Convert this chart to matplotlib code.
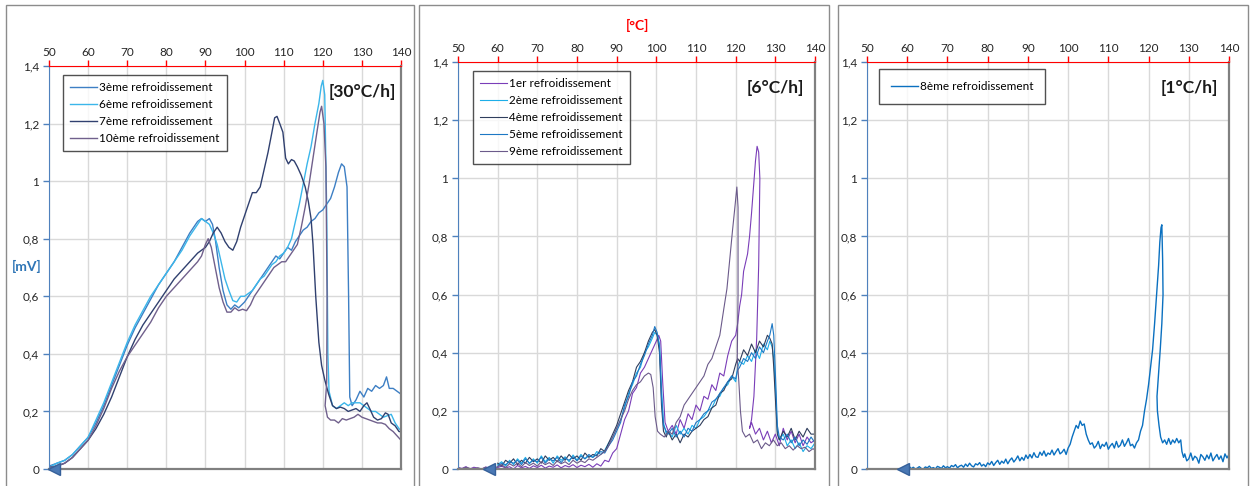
import matplotlib
matplotlib.use("Agg")
import matplotlib.pyplot as plt
from matplotlib.patches import Rectangle

plt.rcParams['font.family'] = ['Lato', 'DejaVu Sans']

# ---- data (temperature [°C], signal [mV]) ----
# panel 1 : 30°C/h
s3_x = [50, 52, 54, 56, 58, 60, 62, 64, 66, 68, 70, 72, 74, 76, 78, 80, 82, 84, 86, 88, 89, 90, 91, 91.8, 92.5,
        93.5, 94.5, 95.5, 96.5, 97.5, 98.5, 100, 101, 102, 103, 104, 105, 106, 107, 108, 109, 110, 111, 112, 113,
        114, 115, 116, 117, 118, 119, 120, 121, 122, 123, 124, 124.8, 125.5, 126.2, 126.6, 126.9, 127.5, 128.5,
        129.5, 130.5, 131.5, 132.5, 133.5, 134.5, 135.5, 136.3, 137, 138, 139, 140]
s3_y = [0.01, 0.02, 0.03, 0.05, 0.08, 0.11, 0.16, 0.22, 0.29, 0.36, 0.43, 0.49, 0.54, 0.59, 0.64, 0.68, 0.72, 0.77,
        0.82, 0.86, 0.87, 0.86, 0.87, 0.85, 0.80, 0.70, 0.62, 0.57, 0.555, 0.57, 0.56, 0.58, 0.60, 0.62, 0.64, 0.66,
        0.68, 0.70, 0.72, 0.74, 0.73, 0.75, 0.77, 0.76, 0.79, 0.81, 0.83, 0.84, 0.86, 0.87, 0.89, 0.90, 0.92, 0.94,
        0.98, 1.03, 1.06, 1.05, 0.98, 0.60, 0.25, 0.22, 0.24, 0.27, 0.25, 0.28, 0.27, 0.29, 0.28, 0.29, 0.32, 0.28,
        0.28, 0.27, 0.26]

s6_x = [50, 52, 54, 56, 58, 60, 62, 64, 66, 68, 70, 72, 74, 76, 78, 80, 82, 84, 86, 88, 89, 90, 91, 92, 93, 94, 95,
        96, 97, 98, 99, 100, 101, 102, 103, 104, 105, 106, 107, 108, 109, 110, 111, 112, 113, 114, 115, 116, 117,
        118, 119, 119.6, 120, 120.5, 121, 121.3, 121.6, 122.5, 123.5, 124.5, 125.5, 126.5, 127.5, 128.5, 129.5,
        130.5, 131.5, 132.5, 133.5, 134.5, 135.5, 136.5, 137.5, 138.5, 139.5, 140]
s6_y = [0.005, 0.02, 0.03, 0.05, 0.08, 0.11, 0.17, 0.23, 0.30, 0.37, 0.44, 0.50, 0.55, 0.60, 0.64, 0.68, 0.72, 0.76,
        0.81, 0.85, 0.87, 0.86, 0.85, 0.82, 0.78, 0.72, 0.66, 0.62, 0.585, 0.58, 0.60, 0.60, 0.61, 0.62, 0.64, 0.66,
        0.67, 0.69, 0.71, 0.72, 0.74, 0.75, 0.77, 0.80, 0.86, 0.92, 0.99, 1.06, 1.12, 1.20, 1.27, 1.33, 1.35, 1.30,
        0.90, 0.40, 0.27, 0.22, 0.21, 0.22, 0.23, 0.22, 0.23, 0.23, 0.23, 0.22, 0.21, 0.20, 0.20, 0.19, 0.18, 0.185,
        0.19, 0.16, 0.14, 0.135]

s7_x = [50, 52, 54, 56, 58, 60, 62, 64, 66, 68, 70, 72, 74, 76, 78, 80, 82, 84, 86, 88, 89, 90, 91, 92, 93, 94, 95,
        96, 97, 98, 99, 100, 101, 102, 103, 104, 105, 106, 107, 107.7, 108.3, 109, 109.8, 110.5, 111.2, 112, 112.7,
        113.5, 114.5, 115.5, 116.3, 117, 117.5, 118.2, 119, 119.7, 120.5, 121.5, 122.5, 123.5, 124.5, 125.5, 126.5,
        127.5, 128.5, 129.5, 130.5, 131.3, 132, 133, 134, 135, 136, 136.7, 137.5, 138.5, 139.5, 140]
s7_y = [0.005, 0.01, 0.02, 0.04, 0.07, 0.10, 0.14, 0.19, 0.25, 0.32, 0.39, 0.45, 0.50, 0.54, 0.58, 0.62, 0.66, 0.69,
        0.72, 0.75, 0.76, 0.77, 0.79, 0.82, 0.84, 0.82, 0.79, 0.77, 0.76, 0.79, 0.84, 0.88, 0.92, 0.96, 0.96, 0.98,
        1.04, 1.10, 1.17, 1.22, 1.225, 1.20, 1.17, 1.08, 1.06, 1.075, 1.07, 1.05, 1.02, 0.98, 0.93, 0.87, 0.78, 0.60,
        0.44, 0.36, 0.31, 0.26, 0.22, 0.21, 0.215, 0.21, 0.20, 0.205, 0.21, 0.20, 0.22, 0.23, 0.21, 0.18, 0.17,
        0.175, 0.195, 0.19, 0.16, 0.15, 0.13, 0.13]

s10_x = [50, 52, 54, 56, 58, 60, 62, 64, 66, 68, 70, 72, 74, 76, 78, 80, 82, 84, 86, 88, 89, 90, 90.7, 91.5, 92.5,
         93.5, 94.5, 95.5, 96.5, 97.5, 98.5, 99.5, 100.5, 101.5, 102.5, 103.5, 104.5, 105.5, 106.5, 107.5, 108.5,
         109.5, 110.5, 111.5, 112.5, 113.5, 114.5, 115.5, 116.5, 117.5, 118.5, 119.3, 119.7, 120.3, 120.8, 121.1,
         121.0, 120.6, 121.2, 122, 123, 124, 125, 126, 127, 128, 129, 130, 131, 132, 133, 134, 135, 136, 137, 138,
         139, 140]
s10_y = [0.005, 0.01, 0.02, 0.04, 0.07, 0.10, 0.15, 0.21, 0.28, 0.34, 0.39, 0.43, 0.47, 0.51, 0.56, 0.60, 0.63, 0.66,
         0.69, 0.72, 0.74, 0.78, 0.80, 0.77, 0.70, 0.63, 0.58, 0.545, 0.545, 0.56, 0.55, 0.555, 0.55, 0.57, 0.60,
         0.62, 0.64, 0.66, 0.68, 0.70, 0.71, 0.72, 0.72, 0.74, 0.76, 0.78, 0.84, 0.91, 0.99, 1.08, 1.17, 1.24, 1.26,
         1.20, 1.05, 0.60, 0.30, 0.22, 0.18, 0.17, 0.17, 0.16, 0.175, 0.17, 0.175, 0.18, 0.19, 0.18, 0.175, 0.17,
         0.165, 0.16, 0.16, 0.155, 0.14, 0.13, 0.115, 0.10]

# panel 2 : 6°C/h
s1_x = [50, 51, 52, 53, 54, 55, 56, 57, 58, 59, 60, 61, 62, 63, 64, 65, 66, 67, 68, 69, 70, 71, 72, 73, 74, 75, 76,
        77, 78, 79, 80, 81, 82, 83, 84, 85, 86, 87, 88, 89, 90, 91, 92, 93, 94, 95, 96, 97, 98, 99, 100, 100.6,
        101.1, 101.6, 102.2, 103, 104, 105, 106, 107, 108, 109, 110, 111, 112, 113, 114, 115, 116, 117, 118, 119,
        120, 120.5, 121, 121.5, 122, 122.5, 123, 123.5, 124, 124.5, 125, 125.4, 125.8, 126.1, 125.8, 125.3, 124.6,
        124, 123.5, 124, 125, 126, 127, 128, 129, 130, 131, 132, 133, 134, 135, 136, 137, 138, 139, 140]
s1_y = [0.005, 0.002, 0.008, 0.0, 0.006, 0.003, 0.0, 0.007, 0.002, 0.0, 0.005, 0.01, 0.003, 0.008, 0.0, 0.012, 0.004,
        0.009, 0.002, 0.011, 0.005, 0.013, 0.003, 0.01, 0.006, 0.014, 0.004, 0.012, 0.007, 0.015, 0.005, 0.013, 0.008,
        0.016, 0.006, 0.018, 0.01, 0.03, 0.025, 0.055, 0.07, 0.12, 0.17, 0.20, 0.26, 0.28, 0.33, 0.35, 0.38, 0.41,
        0.44, 0.46, 0.44, 0.30, 0.16, 0.13, 0.15, 0.12, 0.17, 0.14, 0.19, 0.17, 0.22, 0.20, 0.25, 0.24, 0.29, 0.27,
        0.33, 0.32, 0.39, 0.44, 0.46, 0.50, 0.56, 0.60, 0.68, 0.71, 0.74, 0.80, 0.88, 0.97, 1.06, 1.11, 1.09, 1.00,
        0.70, 0.45, 0.25, 0.17, 0.14, 0.16, 0.12, 0.14, 0.10, 0.13, 0.09, 0.12, 0.08, 0.14, 0.10, 0.13, 0.09, 0.12,
        0.08, 0.11, 0.09, 0.10]

s2_x = [60, 61, 62, 63, 64, 65, 66, 67, 68, 69, 70, 71, 72, 73, 74, 75, 76, 77, 78, 79, 80, 81, 82, 83, 84, 85, 86,
        87, 88, 89, 90, 91, 92, 93, 94, 95, 96, 97, 98, 99, 99.6, 100.2, 100.8, 101.3, 101.8, 102.5, 103, 104, 105,
        106, 107, 108, 109, 110, 111, 112, 113, 114, 115, 116, 117, 118, 119, 120, 120.5, 121, 122, 123, 124, 125,
        126, 127, 128, 128.6, 129.2, 129.6, 130.1, 130.5, 131, 132, 133, 134, 135, 136, 137, 138, 139, 140]
s2_y = [0.015, 0.025, 0.01, 0.03, 0.015, 0.035, 0.02, 0.04, 0.018, 0.035, 0.02, 0.045, 0.025, 0.04, 0.02, 0.045,
        0.03, 0.042, 0.025, 0.048, 0.03, 0.05, 0.035, 0.045, 0.04, 0.06, 0.05, 0.065, 0.09, 0.11, 0.14, 0.17, 0.21,
        0.26, 0.29, 0.33, 0.35, 0.40, 0.42, 0.45, 0.47, 0.46, 0.43, 0.28, 0.16, 0.12, 0.13, 0.11, 0.15, 0.12, 0.14,
        0.12, 0.15, 0.14, 0.17, 0.18, 0.20, 0.21, 0.24, 0.25, 0.28, 0.29, 0.32, 0.30, 0.35, 0.37, 0.36, 0.39, 0.37,
        0.41, 0.38, 0.43, 0.41, 0.44, 0.42, 0.38, 0.26, 0.13, 0.10, 0.12, 0.08, 0.10, 0.07, 0.09, 0.06, 0.08, 0.07,
        0.09]

s4_x = [60, 61, 62, 63, 64, 65, 66, 67, 68, 69, 70, 71, 72, 73, 74, 75, 76, 77, 78, 79, 80, 81, 82, 83, 84, 85, 86,
        87, 88, 89, 90, 91, 92, 93, 94, 95, 96, 97, 98, 99, 99.6, 100.2, 100.8, 101.3, 101.8, 102.5, 103, 104, 105,
        106, 107, 108, 109, 110, 111, 112, 113, 114, 115, 116, 117, 118, 119, 120, 120.5, 121, 122, 123, 124, 125,
        126, 127, 128, 128.6, 129.2, 129.6, 130.1, 130.5, 131, 132, 133, 134, 135, 136, 137, 138, 139, 140]
s4_y = [0.02, 0.01, 0.03, 0.02, 0.035, 0.015, 0.03, 0.02, 0.04, 0.025, 0.035, 0.02, 0.045, 0.03, 0.04, 0.025, 0.045,
        0.03, 0.05, 0.035, 0.045, 0.03, 0.055, 0.04, 0.05, 0.045, 0.07, 0.06, 0.09, 0.12, 0.15, 0.19, 0.23, 0.27,
        0.30, 0.35, 0.37, 0.40, 0.44, 0.47, 0.48, 0.46, 0.40, 0.22, 0.13, 0.11, 0.13, 0.10, 0.12, 0.09, 0.12, 0.11,
        0.13, 0.14, 0.15, 0.17, 0.18, 0.21, 0.22, 0.26, 0.27, 0.30, 0.31, 0.36, 0.38, 0.37, 0.41, 0.39, 0.43, 0.40,
        0.44, 0.42, 0.46, 0.45, 0.43, 0.35, 0.22, 0.12, 0.10, 0.13, 0.11, 0.14, 0.10, 0.13, 0.11, 0.14, 0.12, 0.12]

s5_x = [60, 61, 62, 63, 64, 65, 66, 67, 68, 69, 70, 71, 72, 73, 74, 75, 76, 77, 78, 79, 80, 81, 82, 83, 84, 85, 86,
        87, 88, 89, 90, 91, 92, 93, 94, 95, 96, 97, 98, 99, 99.6, 100.2, 100.8, 101.3, 101.8, 102.5, 103, 104, 105,
        106, 107, 108, 109, 110, 111, 112, 113, 114, 115, 116, 117, 118, 119, 120, 120.5, 121, 122, 123, 124, 125,
        126, 127, 128, 128.6, 129.2, 129.6, 130.1, 130.5, 131, 132, 133, 134, 135, 136, 137, 138, 139, 140]
s5_y = [0.01, 0.02, 0.015, 0.025, 0.02, 0.03, 0.015, 0.035, 0.02, 0.03, 0.025, 0.04, 0.02, 0.035, 0.028, 0.04, 0.022,
        0.038, 0.03, 0.042, 0.028, 0.045, 0.035, 0.05, 0.04, 0.05, 0.06, 0.055, 0.08, 0.10, 0.13, 0.16, 0.22, 0.25,
        0.30, 0.32, 0.36, 0.39, 0.43, 0.46, 0.49, 0.47, 0.42, 0.25, 0.15, 0.13, 0.12, 0.14, 0.11, 0.13, 0.11, 0.14,
        0.13, 0.16, 0.17, 0.19, 0.20, 0.23, 0.24, 0.26, 0.28, 0.30, 0.32, 0.31, 0.34, 0.35, 0.38, 0.37, 0.40, 0.38,
        0.42, 0.40, 0.44, 0.46, 0.50, 0.46, 0.30, 0.15, 0.11, 0.10, 0.12, 0.09, 0.11, 0.08, 0.10, 0.085, 0.11, 0.09]

s9_x = [50, 51, 52, 53, 54, 55, 56, 57, 58, 59, 60, 61, 62, 63, 64, 65, 66, 67, 68, 69, 70, 71, 72, 73, 74, 75, 76,
        77, 78, 79, 80, 81, 82, 83, 84, 85, 86, 87, 88, 89, 90, 91, 92, 93, 94, 95, 96, 97, 98, 98.6, 99.2, 99.7,
        100.3, 101, 102, 103, 104, 105, 106, 107, 108, 109, 110, 111, 112, 113, 114, 115, 116, 117, 117.8, 118.5,
        119.2, 119.8, 120.3, 120.6, 120.6, 120.4, 120.8, 121.2, 121.7, 122.5, 123.5, 124.5, 125.5, 126.5, 127.5,
        128.5, 129.5, 130.5, 131.5, 132.5, 133.5, 134.5, 135.5, 136.5, 137.5, 138.5, 139.5, 140]
s9_y = [0.005, 0.0, 0.006, 0.002, 0.0, 0.004, 0.0, 0.006, 0.0, 0.003, 0.008, 0.015, 0.005, 0.018, 0.01, 0.02, 0.008,
        0.022, 0.012, 0.02, 0.01, 0.025, 0.015, 0.022, 0.012, 0.028, 0.018, 0.025, 0.015, 0.03, 0.02, 0.028, 0.022,
        0.035, 0.03, 0.04, 0.05, 0.06, 0.08, 0.11, 0.14, 0.17, 0.20, 0.24, 0.27, 0.29, 0.30, 0.32, 0.33, 0.325,
        0.28, 0.18, 0.13, 0.12, 0.11, 0.13, 0.12, 0.16, 0.18, 0.22, 0.24, 0.26, 0.28, 0.30, 0.32, 0.36, 0.38, 0.42,
        0.46, 0.55, 0.62, 0.72, 0.82, 0.90, 0.97, 0.90, 0.60, 0.38, 0.30, 0.20, 0.13, 0.11, 0.12, 0.09, 0.10, 0.07,
        0.09, 0.08, 0.10, 0.08, 0.09, 0.07, 0.08, 0.065, 0.08, 0.07, 0.075, 0.06, 0.07, 0.065]

# panel 3 : 1°C/h
s8_x = [59, 59.5, 60, 60.5, 61, 61.5, 62, 62.5, 63, 63.5, 64, 64.5, 65, 65.5, 66, 66.5, 67, 67.5, 68, 68.5, 69,
        69.5, 70, 70.5, 71, 71.5, 72, 72.5, 73, 73.5, 74, 74.5, 75, 75.5, 76, 76.5, 77, 77.5, 78, 78.5, 79, 79.5,
        80, 80.5, 81, 81.5, 82, 82.5, 83, 83.5, 84, 84.5, 85, 85.5, 86, 86.5, 87, 87.5, 88, 88.5, 89, 89.5, 90,
        90.5, 91, 91.5, 92, 92.5, 93, 93.5, 94, 94.5, 95, 95.5, 96, 96.5, 97, 97.5, 98, 98.5, 99, 99.5, 100,
        100.5, 101, 101.5, 102, 102.5, 103, 103.5, 104, 104.5, 105, 105.5, 106, 106.5, 107, 107.5, 108, 108.5,
        109, 109.5, 110, 110.5, 111, 111.5, 112, 112.5, 113, 113.5, 114, 114.5, 115, 115.5, 116, 116.5, 117,
        117.5, 118, 118.5, 119, 119.5, 120, 120.5, 121, 121.5, 122, 122.5, 122.8, 123.1, 123.3, 123.5, 123.6,
        123.3, 122.9, 122.5, 122.1, 122.2, 122.6, 123, 123.5, 124, 124.5, 125, 125.5, 126, 126.5, 127, 127.5,
        128, 128.3, 128.7, 129, 129.5, 130, 130.5, 131, 131.5, 132, 132.5, 133, 133.5, 134, 134.5, 135, 135.5,
        136, 136.5, 137, 137.5, 138, 138.5, 139, 139.5, 140]
s8_y = [0.005, 0.0, 0.004, 0.009, 0.001, 0.006, 0.0, 0.003, 0.008, 0.002, 0.0, 0.007, 0.004, 0.01, 0.002, 0.005,
        0.0, 0.009, 0.006, 0.002, 0.011, 0.004, 0.008,
        0.003, 0.012, 0.008, 0.015, 0.004, 0.01, 0.013, 0.006, 0.017, 0.009, 0.02, 0.011, 0.007, 0.018, 0.014,
        0.022, 0.01, 0.016, 0.008, 0.021,
        0.015, 0.026, 0.012, 0.022, 0.03, 0.016, 0.027, 0.02, 0.034, 0.018, 0.03, 0.038, 0.024, 0.033, 0.045,
        0.028, 0.04, 0.03, 0.048, 0.036,
        0.05, 0.038, 0.056, 0.042, 0.04, 0.058, 0.047, 0.062, 0.044, 0.055, 0.05, 0.065, 0.048, 0.06, 0.07, 0.052,
        0.058, 0.068, 0.05, 0.072,
        0.085, 0.11, 0.13, 0.15, 0.14, 0.165, 0.15, 0.155, 0.12, 0.10, 0.085,
        0.09, 0.072, 0.08, 0.095, 0.07, 0.085, 0.078, 0.092, 0.068, 0.08, 0.088, 0.072, 0.095, 0.075, 0.082, 0.1,
        0.078, 0.09, 0.105, 0.08, 0.085, 0.072, 0.09,
        0.10, 0.13, 0.15, 0.20, 0.24, 0.29, 0.35, 0.41, 0.50, 0.60, 0.70,
        0.78, 0.83, 0.84, 0.72, 0.60, 0.50, 0.41, 0.33, 0.25, 0.20, 0.15, 0.11, 0.09,
        0.10, 0.085, 0.105, 0.085, 0.10, 0.09, 0.105, 0.09, 0.10,
        0.06,
        0.04, 0.052, 0.028, 0.035, 0.055, 0.03, 0.044, 0.038, 0.02, 0.05, 0.042, 0.03, 0.048, 0.035, 0.055, 0.028,
        0.04, 0.05, 0.033, 0.045, 0.025, 0.052, 0.038, 0.05]

panels = [
    {"rate": "[30°C/h]", "arrow_x": 51.2, "lw": 1.0,
     "series": [("3ème refroidissement", s3_x, s3_y, "#3d7fc4"),
                ("6ème refroidissement", s6_x, s6_y, "#3bb6ea"),
                ("7ème refroidissement", s7_x, s7_y, "#30406f"),
                ("10ème refroidissement", s10_x, s10_y, "#70608c")]},
    {"rate": "[6°C/h]", "arrow_x": 57.8, "lw": 0.8,
     "series": [("1er refroidissement", s1_x, s1_y, "#7a3db8"),
                ("2ème refroidissement", s2_x, s2_y, "#1daee8"),
                ("4ème refroidissement", s4_x, s4_y, "#2f3d5c"),
                ("5ème refroidissement", s5_x, s5_y, "#1d78c4"),
                ("9ème refroidissement", s9_x, s9_y, "#6b5a8a")]},
    {"rate": "[1°C/h]", "arrow_x": 59.0, "lw": 1.0,
     "series": [("8ème refroidissement", s8_x, s8_y, "#0a70c0")]},
]

x_ticks = [50, 60, 70, 80, 90, 100, 110, 120, 130, 140]
y_ticks = [0, 0.2, 0.4, 0.6, 0.8, 1.0, 1.2, 1.4]
y_labels = ["0", "0,2", "0,4", "0,6", "0,8", "1", "1,2", "1,4"]

W, H = 1253, 486
fig = plt.figure(figsize=(W / 100, H / 100), dpi=100)

# axes boxes in pixels: left, right, top
boxes = [(49, 401, 66), (458, 815, 62), (867, 1229, 62)]
frames = [(6, 414), (419, 829), (838, 1248)]
legend_anchor = [(0.04, 0.978), (0.042, 0.978), (0.033, 0.983)]

for fr in frames:
    fig.add_artist(Rectangle((fr[0] / W, -0.01), (fr[1] - fr[0]) / W, 1 - 5 / H + 0.01,
                             transform=fig.transFigure, fill=False, edgecolor="#8c8c8c", lw=1))

for i, (p, b) in enumerate(zip(panels, boxes)):
    left, right, top = b
    ax = fig.add_axes([left / W, (H - 469) / H, (right - left) / W, (469 - top) / H])
    for label, xs, ys, col in p["series"]:
        ax.plot(xs, ys, color=col, lw=p["lw"], label=label)
    ax.plot([p["arrow_x"]], [0], marker="<", ms=9, color="#4a78b4", mec="#35609a", clip_on=False, zorder=5)

    ax.set_xlim(50, 140)
    ax.set_ylim(0, 1.4)
    ax.set_xticks(x_ticks)
    ax.set_yticks(y_ticks)
    ax.set_yticklabels(y_labels)
    ax.xaxis.tick_top()
    ax.tick_params(axis="x", colors="red", labelcolor="#262626", length=4, width=1, labelsize=8.5, pad=2)
    ax.tick_params(axis="y", colors="#4f81bd", labelcolor="#262626", length=4, width=1, labelsize=8.5, pad=3)
    ax.grid(True, color="#d9d9d9", lw=1)
    ax.set_axisbelow(True)
    ax.spines["left"].set_color("#4f81bd")
    ax.spines["top"].set_color("red")
    ax.spines["right"].set_color("#808080")
    ax.spines["bottom"].set_color("#808080")
    ax.spines["right"].set_linewidth(1.6)
    ax.spines["bottom"].set_linewidth(1.6)

    leg = ax.legend(loc="upper left", bbox_to_anchor=legend_anchor[i], borderaxespad=0, fontsize=8.5,
                    frameon=True, fancybox=False, handlelength=2.3, handletextpad=0.15,
                    labelspacing=0.5, borderpad=0.6 if i < 2 else 1.0)
    leg.get_frame().set_edgecolor("#262626")
    leg.get_frame().set_linewidth(1.0)

    ax.text(138.8 if i == 0 else 137.2, 1.31, p["rate"], ha="right", va="center", fontsize=12.5,
            fontweight="bold", color="#1a1a1a")

fig.text(638 / W, (H - 25) / H, "[°C]", color="red", fontsize=10, fontweight="bold", ha="center", va="center")
fig.text(27 / W, (H - 266) / H, "[mV]", color="#2e75b6", fontsize=10, fontweight="bold", ha="center", va="center")

fig.savefig("out.png", dpi=100)
